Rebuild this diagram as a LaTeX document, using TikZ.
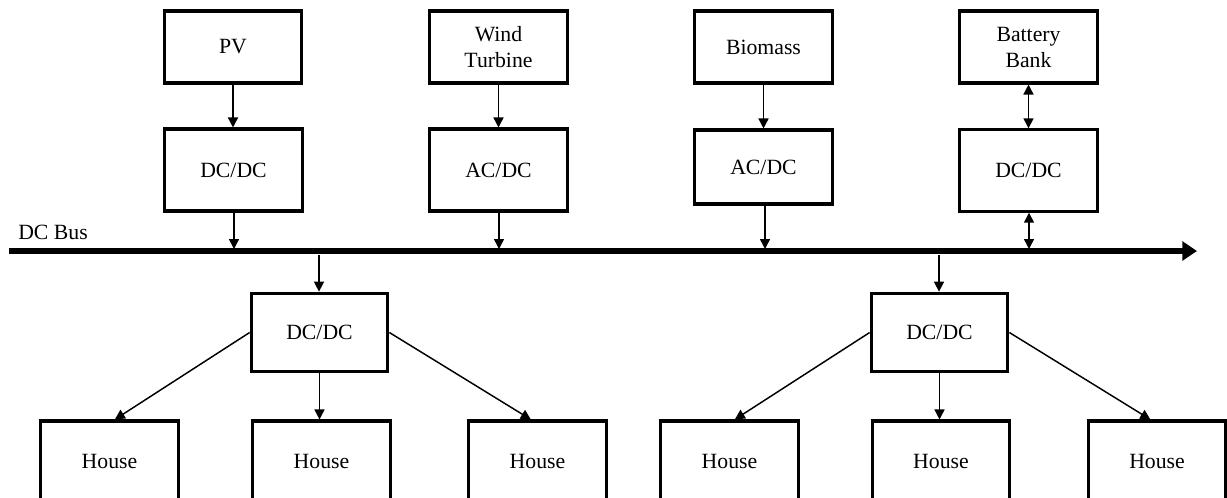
\documentclass[tikz,border=0pt]{standalone}
\usepackage{fontspec}
\setmainfont{Liberation Serif}
\usetikzlibrary{arrows.meta}
\begin{document}
\begin{tikzpicture}[x=0.75pt,y=-0.75pt,
  box/.style={draw,line width=2.3pt,minimum width=103pt,minimum height=#1,inner sep=0pt,align=center,font=\fontsize{16.3}{19.5}\selectfont},
  box/.default=54pt,
  conn/.style={line width=1.1pt,-{Triangle[length=7.5pt,width=7.5pt]}},
  bconn/.style={line width=1.1pt,{Triangle[length=7.5pt,width=7.5pt]}-{Triangle[length=7.5pt,width=7.5pt]}},
  bus/.style={line width=3.8pt,-{Triangle[length=11pt,width=14pt]}}]
\useasboundingbox (0,0) rectangle (1227,497);
\clip (0,0) rectangle (1227,497);
% top sources
\node[box] (pv) at (233,47) {PV};
\node[box] (wind) at (498.5,47) {Wind\\Turbine};
\node[box] (bio) at (763.5,47) {Biomass};
\node[box] (bat) at (1028.5,47) {Battery\\Bank};
% converters
\node[box=61.5pt] (c1) at (233.5,170) {DC/DC};
\node[box=61.5pt] (c2) at (498.5,170) {AC/DC};
\node[box=55.5pt] (c3) at (763.5,167) {AC/DC};
\node[box=61pt] (c4) at (1028.5,170.5) {DC/DC};
% bus
\coordinate (busL) at (9,251);
\coordinate (busR) at (1197,251);
\draw[bus] (busL) -- (busR);
\node[anchor=west,font=\fontsize{16.3}{19.5}\selectfont,inner sep=0pt] (buslbl) at (18,232) {DC Bus};
\coordinate (b1) at (234,249);
\coordinate (b2) at (499,249);
\coordinate (b3) at (765,249);
\coordinate (b4) at (1029,249);
\coordinate (d1) at (319,255);
\coordinate (d2) at (939,255);
% lower converters
\node[box=59pt,minimum width=102.5pt] (l1) at (319.5,332.5) {DC/DC};
\node[box=59pt,minimum width=102.5pt] (l2) at (939.5,332.5) {DC/DC};
% houses
\node[box=60pt] (h1) at (109.5,461) {House};
\node[box=60pt] (h2) at (321.5,461) {House};
\node[box=60pt] (h3) at (537.5,461) {House};
\node[box=60pt] (h4) at (729.5,461) {House};
\node[box=60pt] (h5) at (941,461) {House};
\node[box=60pt] (h6) at (1157,461) {House};
% connectors
\draw[conn] (pv.south) -- (c1.north -| pv.south);
\draw[conn] (wind.south) -- (c2.north -| wind.south);
\draw[conn] (bio.south) -- (c3.north -| bio.south);
\draw[bconn] (bat.south) -- (c4.north -| bat.south);
\draw[conn] (c1.south -| b1) -- (b1);
\draw[conn] (c2.south -| b2) -- (b2);
\draw[conn] (c3.south -| b3) -- (b3);
\draw[bconn] (c4.south -| b4) -- (b4);
\draw[conn] (d1) -- (l1.north -| d1);
\draw[conn] (d2) -- (l2.north -| d2);
\draw[conn] (l1.west) -- ([xshift=4]h1.north);
\draw[conn] (l1.south) -- (l1.south |- h2.north);
\draw[conn] (l1.east) -- ([xshift=-5]h3.north);
\draw[conn] (l2.west) -- ([xshift=4]h4.north);
\draw[conn] (l2.south) -- (l2.south |- h5.north);
\draw[conn] (l2.east) -- ([xshift=-5]h6.north);
\end{tikzpicture}
\end{document}
